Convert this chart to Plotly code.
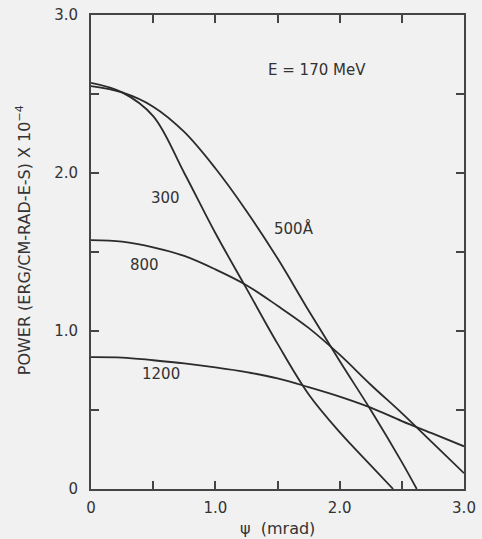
import plotly.graph_objects as go

# Angular distribution of synchrotron power at E = 170 MeV, one curve per wavelength
psi_300 = [0, 0.25, 0.5, 0.75, 1.0, 1.25, 1.5, 1.75, 2.0, 2.25, 2.43]
pow_300 = [2.57, 2.51, 2.36, 2.00, 1.62, 1.27, 0.92, 0.60, 0.36, 0.15, 0.0]

psi_500 = [0, 0.25, 0.5, 0.75, 1.0, 1.25, 1.5, 1.75, 2.0, 2.25, 2.5, 2.62]
pow_500 = [2.55, 2.51, 2.42, 2.26, 2.03, 1.76, 1.46, 1.13, 0.81, 0.50, 0.17, 0.0]

psi_800 = [0, 0.25, 0.5, 0.75, 1.0, 1.25, 1.5, 1.75, 2.0, 2.25, 2.5, 2.75, 3.0]
pow_800 = [1.575, 1.565, 1.53, 1.475, 1.39, 1.29, 1.16, 1.02, 0.85, 0.66, 0.48, 0.29, 0.10]

psi_1200 = [0, 0.25, 0.5, 0.75, 1.0, 1.25, 1.5, 1.75, 2.0, 2.25, 2.5, 2.75, 3.0]
pow_1200 = [0.835, 0.832, 0.815, 0.795, 0.77, 0.74, 0.70, 0.645, 0.585, 0.515, 0.43, 0.35, 0.27]

curve_labels = ["300", "500Å", "800", "1200"]
label_psi = [0.60, 1.63, 0.43, 0.56]
label_pow = [1.84, 1.65, 1.42, 0.73]

major_vals = [0, 1.0, 2.0, 3.0]
major_text = ["0", "1.0", "2.0", "3.0"]

ink = "#2b2b2b"
axis_ink = "#444444"
paper = "#f1f1f1"
font = dict(family="DejaVu Sans", size=15, color="#333333")
title_font = dict(family="DejaVu Sans", size=16, color="#333333")

fig = go.Figure()
for xs, ys in [(psi_300, pow_300), (psi_500, pow_500), (psi_800, pow_800), (psi_1200, pow_1200)]:
    fig.add_trace(go.Scatter(
        x=xs, y=ys, mode="lines",
        line=dict(color=ink, width=1.8, shape="spline", smoothing=1.0),
        hoverinfo="skip", showlegend=False,
    ))

for txt, lx, ly in zip(curve_labels, label_psi, label_pow):
    fig.add_annotation(x=lx, y=ly, text=txt, showarrow=False, font=font,
                       xanchor="center", yanchor="middle")

fig.add_annotation(x=1.82, y=2.65, text="E = 170 MeV", showarrow=False, font=font,
                   xanchor="center", yanchor="middle")

# axis titles
fig.add_annotation(xref="paper", yref="paper", x=0.5, y=-0.083,
                   text="ψ  (mrad)", showarrow=False, font=title_font,
                   xanchor="center", yanchor="middle")
fig.add_annotation(xref="paper", yref="paper", x=-0.182, y=0.525, textangle=-90,
                   text="POWER (ERG/CM-RAD-E-S) X 10<sup>−4</sup>", showarrow=False,
                   font=title_font, xanchor="center", yanchor="middle")

axis_common = dict(
    range=[0, 3], showgrid=False, zeroline=False, automargin=False,
    showline=True, linecolor=axis_ink, linewidth=2, mirror="ticks",
    ticks="inside", ticklen=8, tickwidth=2, tickcolor=axis_ink,
    tickvals=major_vals, ticktext=major_text, tickfont=font,
    minor=dict(ticks="inside", ticklen=8, tickwidth=2, tickcolor=axis_ink,
               dtick=0.5, tick0=0, showgrid=False),
)
fig.update_xaxes(ticklabelstandoff=4, **axis_common)
fig.update_yaxes(ticklabelstandoff=8, **axis_common)

fig.update_layout(
    template="none",
    width=482, height=539,
    margin=dict(l=91, r=18, t=15, b=50, autoexpand=False),
    paper_bgcolor=paper, plot_bgcolor=paper,
    showlegend=False,
)

fig.write_html("out.html")
